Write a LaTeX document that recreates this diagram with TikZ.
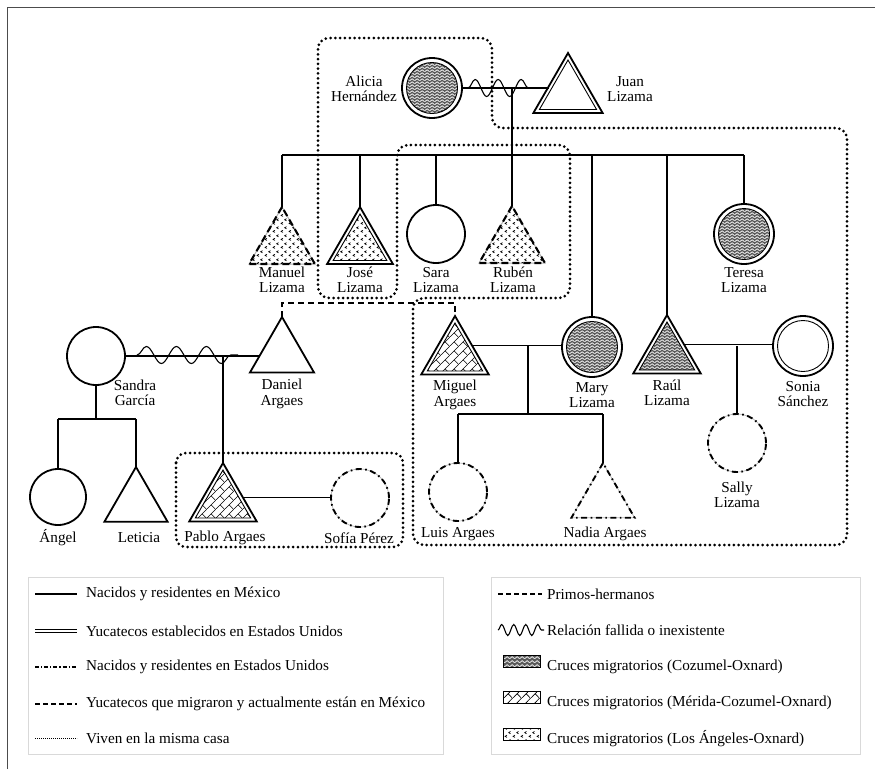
\documentclass[tikz,border=0pt]{standalone}
\usepackage{fontspec}
\setmainfont{Liberation Serif}
\usetikzlibrary{shapes.geometric,patterns,decorations.pathmorphing,calc}

\pgfdeclarepatternformonly{cozumel}{\pgfqpoint{0pt}{0pt}}{\pgfqpoint{5pt}{3.4pt}}{\pgfqpoint{5pt}{3.4pt}}{%
  \pgfsetlinewidth{0.8pt}%
  \pgfpathmoveto{\pgfqpoint{-0.5pt}{0.2pt}}%
  \pgfpathlineto{\pgfqpoint{2.5pt}{2.6pt}}%
  \pgfpathlineto{\pgfqpoint{5.5pt}{0.2pt}}%
  \pgfusepath{stroke}}

\pgfdeclarepatternformonly{brick}{\pgfqpoint{0pt}{0pt}}{\pgfqpoint{9pt}{9pt}}{\pgfqpoint{9pt}{9pt}}{%
  \pgfsetlinewidth{0.7pt}%
  \pgfpathmoveto{\pgfqpoint{-1pt}{-1pt}}%
  \pgfpathlineto{\pgfqpoint{10pt}{10pt}}%
  \pgfusepath{stroke}%
  \pgfpathmoveto{\pgfqpoint{9pt}{0pt}}%
  \pgfpathlineto{\pgfqpoint{4.5pt}{4.5pt}}%
  \pgfusepath{stroke}}

\pgfdeclarepatternformonly{losangeles}{\pgfqpoint{0pt}{0pt}}{\pgfqpoint{8pt}{8pt}}{\pgfqpoint{8pt}{8pt}}{%
  \pgfsetlinewidth{0.75pt}%
  \pgfpathmoveto{\pgfqpoint{3.2pt}{0.6pt}}%
  \pgfpathlineto{\pgfqpoint{1.2pt}{1.8pt}}%
  \pgfpathlineto{\pgfqpoint{3.2pt}{3.0pt}}%
  \pgfpathmoveto{\pgfqpoint{7.2pt}{4.6pt}}%
  \pgfpathlineto{\pgfqpoint{5.2pt}{5.8pt}}%
  \pgfpathlineto{\pgfqpoint{7.2pt}{7.0pt}}%
  \pgfusepath{stroke}}

\tikzset{
  per/.style={inner sep=0pt, outer sep=0pt},
  circ/.style={per, circle, minimum size=58pt},
  tri/.style={per, regular polygon, regular polygon sides=3, minimum size=76pt},
  solidp/.style={draw, line width=1.8pt},
  outerp/.style={draw, line width=1.8pt},
  innerp/.style={draw, line width=0.9pt},
  dashp/.style={draw, line width=2.1pt, dash pattern=on 7pt off 4pt,
    preaction={draw=black!30, line width=1pt, solid}},
  dotdashp/.style={draw, line width=1.9pt, dash pattern=on 6pt off 3.5pt on 1.6pt off 3.5pt,
    preaction={draw=black!30, line width=0.7pt, solid}},
  coz/.style={preaction={fill=black!65}, preaction={pattern=cozumel, pattern color=white}},
  mer/.style={pattern=brick},
  la/.style={pattern=losangeles},
  link/.style={line width=1.1pt},
  wave/.style={line width=1.1pt, decorate, decoration={snake, amplitude=8.5pt, segment length=26pt}},
  house/.style={line width=3pt, dash pattern=on 0pt off 4.8pt, line cap=round, rounded corners=11pt},
  primos/.style={line width=1.6pt, dash pattern=on 6pt off 4pt},
  lab/.style={align=center, font=\fontsize{15.2}{15.5}\selectfont, inner sep=0pt},
  leg/.style={anchor=west, font=\fontsize{15.2}{17}\selectfont, inner sep=0pt},
}

\begin{document}
\begin{tikzpicture}[x=1pt,y=-1pt]
\useasboundingbox (0,0) rectangle (875,769);
\fill[white] (0,0) rectangle (875,769);
\draw[black!70, line width=1pt] (7,769) -- (7,7) -- (875,7);

% ---------- households ----------
\draw[house] (400,38) -- (492,38) -- (492,128) -- (847,128) -- (847,545) -- (413,545)
  -- (413,298) -- (570,298) -- (570,145) -- (397,145) -- (397,298) -- (318,298) -- (318,38) -- cycle;
\draw[house, rounded corners=10pt] (176,453) rectangle (403,547);

% ---------- generation 1 ----------
\node[circ, minimum size=60pt, outerp] (alicia) at (432,88) {};
\node[circ, minimum size=51pt, innerp, coz] (alicia-in) at (alicia.center) {};
\node[tri, minimum size=80pt, outerp, anchor=corner 1] (juan) at (568,53) {};
\node[tri, minimum size=66pt, innerp] (juan-in) at (juan.center) {};
\node[lab] (lAlicia) at (364,89) {Alicia\\Hernández};
\node[lab] (lJuan) at (630,89) {Juan\\Lizama};

\path ($(juan.corner 1)!0.56!(juan.corner 2)$) coordinate (juanL);
\draw[link] (alicia.east) -- (alicia.east -| juanL);
\coordinate (w1a) at (468,88);
\coordinate (w1b) at (538,88);
\draw[wave, decoration={segment length=23pt}] (w1a) -- (w1b);
\coordinate (kAJ) at (512,88);

% ---------- generation 2 (Lizama siblings) ----------
\node[tri, dashp, la, anchor=corner 1] (manuel) at (282,207) {};
\node[tri, outerp, anchor=corner 1] (jose) at (360,207) {};
\node[tri, minimum size=62pt, innerp, la] (jose-in) at (jose.center) {};
\node[circ, solidp] (sara) at (436,234) {};
\node[tri, dashp, la, anchor=corner 1] (ruben) at (512,206) {};
\node[circ, minimum size=60pt, outerp] (teresa) at (744,234) {};
\node[circ, minimum size=51pt, innerp, coz] (teresa-in) at (teresa.center) {};
\node[circ, minimum size=60pt, outerp] (mary) at (592,347) {};
\node[circ, minimum size=51pt, innerp, coz] (mary-in) at (mary.center) {};
\node[tri, minimum size=78pt, outerp, anchor=corner 1] (raul) at (667,315) {};
\node[tri, minimum size=64pt, innerp, coz] (raul-in) at (raul.center) {};

\node[lab] (lManuel) at (282,280) {Manuel\\Lizama};
\node[lab] (lJose) at (360,280) {José\\Lizama};
\node[lab] (lSara) at (436,280) {Sara\\Lizama};
\node[lab] (lRuben) at (513,280) {Rubén\\Lizama};
\node[lab] (lTeresa) at (744,280) {Teresa\\Lizama};
\node[lab] (lMary) at (592,395) {Mary\\Lizama};
\node[lab] (lRaul) at (667,393) {Raúl\\Lizama};

\coordinate (sibL) at (282,155);
\coordinate (sibR) at (744,155);
\draw[link] (sibL) -- (sibR);
\draw[link] (kAJ) -- (ruben.corner 1);
\draw[link] (manuel.corner 1 |- sibL) -- (manuel.corner 1);
\draw[link] (jose.corner 1 |- sibL) -- (jose.corner 1);
\draw[link] (sara.north |- sibL) -- (sara.north);
\draw[link] (mary.north |- sibL) -- (mary.north);
\draw[link] (raul.corner 1 |- sibL) -- (raul.corner 1);
\draw[link] (teresa.north |- sibL) -- (teresa.north);

% ---------- Argaes / García ----------
\node[circ, solidp] (sandra) at (96,356) {};
\node[tri, minimum size=74pt, solidp, anchor=corner 1] (daniel) at (282,317) {};
\node[lab] (lSandra) at (135,393) {Sandra\\García};
\node[lab] (lDaniel) at (282,394) {Daniel\\Argaes};
\path ($(daniel.corner 1)!0.68!(daniel.corner 2)$) coordinate (danL);
\draw[link] (sandra.east) -- (sandra.east -| danL);
\coordinate (w2a) at (137,355);
\coordinate (w2b) at (238,355);
\draw[wave, decoration={segment length=30pt}] (w2a) -- (w2b);
\coordinate (kSD) at (223,356);

\node[circ, minimum size=56pt, solidp] (angel) at (58,497) {};
\node[tri, minimum size=73pt, solidp, anchor=corner 1] (leticia) at (136,467) {};
\node[lab] (lAngel) at (58,538) {Ángel};
\node[lab] (lLeticia) at (139,538) {Leticia};
\coordinate (kS) at (96,419);
\draw[link] (sandra.south) -- (kS);
\draw[link] (angel.north |- kS) -- (leticia.corner 1 |- kS);
\draw[link] (angel.north |- kS) -- (angel.north);
\draw[link] (leticia.corner 1 |- kS) -- (leticia.corner 1);

\node[tri, minimum size=78pt, outerp, anchor=corner 1] (pablo) at (223,463) {};
\node[tri, minimum size=64pt, innerp, mer] (pablo-in) at (pablo.center) {};
\node[circ, dotdashp] (sofia) at (360,498) {};
\node[lab] (lPablo) at (225,538) {Pablo Argaes};
\node[lab] (lSofia) at (359,538) {Sofía Pérez};
\draw[link] (kSD) -- (pablo.corner 1);
\path ($(pablo.corner 1)!0.59!(pablo.corner 3)$) coordinate (pabR);
\draw[link] (pabR) -- (pabR -| sofia.west);

% ---------- Miguel & Mary ----------
\node[tri, minimum size=78pt, outerp, anchor=corner 1] (miguel) at (455,316) {};
\node[tri, minimum size=64pt, innerp, mer] (miguel-in) at (miguel.center) {};
\node[lab] (lMiguel) at (455,395) {Miguel\\Argaes};
\coordinate (prim) at (370,303);
\draw[primos] (daniel.corner 1) |- (prim) -| (miguel.corner 1);
\path ($(miguel.corner 1)!0.5!(miguel.corner 3)$) coordinate (mm);
\draw[link] (mm) -- (mm -| mary.west);
\coordinate (kMM) at (528,346);
\coordinate (sib2) at (528,414);
\draw[link] (kMM) -- (sib2);

\node[circ, dotdashp] (luis) at (458,492) {};
\node[tri, minimum size=73pt, dotdashp, anchor=corner 1] (nadia) at (603,463) {};
\node[lab] (lLuis) at (458,534) {Luis Argaes};
\node[lab] (lNadia) at (605,534) {Nadia Argaes};
\draw[link] (luis.north |- sib2) -- (nadia.corner 1 |- sib2);
\draw[link] (luis.north |- sib2) -- (luis.north);
\draw[link] (nadia.corner 1 |- sib2) -- (nadia.corner 1);

% ---------- Raúl & Sonia ----------
\node[circ, minimum size=60pt, outerp] (sonia) at (803,346) {};
\node[circ, minimum size=51pt, innerp] (sonia-in) at (sonia.center) {};
\node[lab] (lSonia) at (803,394) {Sonia\\Sánchez};
\path ($(raul.corner 1)!0.5!(raul.corner 3)$) coordinate (rs);
\draw[link] (rs) -- (rs -| sonia.west);
\node[circ, dotdashp] (sally) at (737,443) {};
\node[lab] (lSally) at (737,495) {Sally\\Lizama};
\coordinate (kRS) at (737,346);
\draw[link] (kRS) -- (sally.north);

% ---------- legend ----------
\draw[black!15, line width=0.6pt] (28,577) rectangle (443,754);
\draw[black!15, line width=0.6pt] (491,577) rectangle (860,754);

\coordinate (a1) at (35,594);  \coordinate (b1) at (77,594);
\coordinate (a2) at (35,631);  \coordinate (b2) at (77,631);
\coordinate (a3) at (35,667);  \coordinate (b3) at (77,667);
\coordinate (a4) at (35,704);  \coordinate (b4) at (77,704);
\coordinate (a5) at (35,738);  \coordinate (b5) at (77,738);
\draw[line width=1.2pt] (a1) -- (b1);
\draw[line width=1.4pt, double=white, double distance=1.2pt] (a2) -- (b2);
\draw[line width=1.2pt, dash pattern=on 4pt off 2pt on 1.2pt off 2pt] (a3) -- (b3);
\draw[line width=1.3pt, dash pattern=on 5pt off 3pt] (a4) -- (b4);
\draw[line width=0.8pt, dash pattern=on 0.8pt off 1.2pt] (a5) -- (b5);
\node[leg] (t1) at (86,594) {Nacidos y residentes en México};
\node[leg] (t2) at (86,631) {Yucatecos establecidos en Estados Unidos};
\node[leg] (t3) at (86,667) {Nacidos y residentes en Estados Unidos};
\node[leg] (t4) at (86,704) {Yucatecos que migraron y actualmente están en México};
\node[leg] (t5) at (86,738) {Viven en la misma casa};

\coordinate (c1) at (498,594); \coordinate (d1) at (542,594);
\coordinate (c2) at (498,630); \coordinate (d2) at (544,630);
\draw[line width=1.3pt, dash pattern=on 5pt off 3pt] (c1) -- (d1);
\draw[line width=1.1pt, decorate, decoration={snake, amplitude=5.5pt, segment length=12pt}] (c2) -- (d2);
\node[per, draw, line width=0.5pt, minimum width=37pt, minimum height=12pt, coz] (s1) at (521.5,661) {};
\node[per, draw, line width=0.5pt, minimum width=37pt, minimum height=12pt, mer] (s2) at (521.5,697.5) {};
\node[per, draw, line width=0.5pt, minimum width=37pt, minimum height=12pt, la] (s3) at (521.5,734) {};
\node[leg] (u1) at (547,594) {Primos-hermanos};
\node[leg] (u2) at (547,630) {Relación fallida o inexistente};
\node[leg] (u3) at (547,667) {Cruces migratorios (Cozumel-Oxnard)};
\node[leg] (u4) at (547,703) {Cruces migratorios (Mérida-Cozumel-Oxnard)};
\node[leg] (u5) at (547,739) {Cruces migratorios (Los Ángeles-Oxnard)};
\end{tikzpicture}
\end{document}
